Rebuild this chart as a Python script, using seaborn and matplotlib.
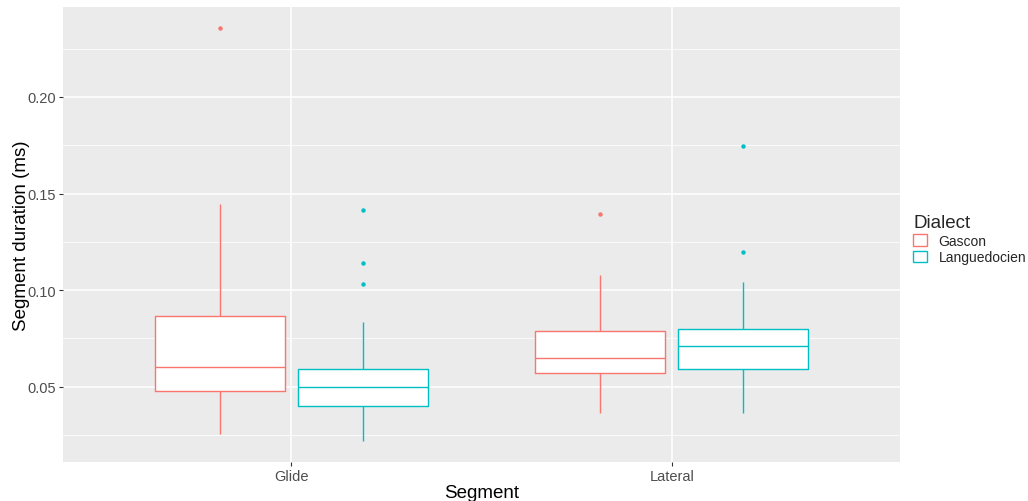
import numpy as np
import pandas as pd
import matplotlib
matplotlib.use("Agg")
import matplotlib.pyplot as plt
from matplotlib.ticker import MultipleLocator
import seaborn as sns

# ---------------------------------------------------------------------------
# Values (box summaries per Segment x Dialect)
# ---------------------------------------------------------------------------
segments = ["Glide", "Glide", "Lateral", "Lateral"]
dialects = ["Gascon", "Languedocien", "Gascon", "Languedocien"]
whisker_lo = [0.0256, 0.0218, 0.0364, 0.0364]
q1 = [0.0479, 0.0401, 0.0572, 0.0593]
median = [0.0603, 0.0500, 0.0650, 0.0712]
q3 = [0.0868, 0.0593, 0.0790, 0.0800]
whisker_hi = [0.1448, 0.0837, 0.1076, 0.1040]
outliers = [[0.2358], [0.1034, 0.1138, 0.1413], [0.1392], [0.1195, 0.1746]]

seg_order = ["Glide", "Lateral"]
dia_order = ["Gascon", "Languedocien"]
colors = {"Gascon": "#F8766D", "Languedocien": "#00BFC4"}

# long table built so that the box statistics land on the values above
rows = []
for i in range(len(segments)):
    k = 1 + len(outliers[i])
    vals = [whisker_lo[i]] + [q1[i]] * k + [median[i]] * k + [q3[i]] * k + [whisker_hi[i]] + outliers[i]
    for v in vals:
        rows.append({"Segment": segments[i], "Dialect": dialects[i], "dur": v})
df = pd.DataFrame(rows)

# ---------------------------------------------------------------------------
# Plot
# ---------------------------------------------------------------------------
sns.set_theme(style="darkgrid")
plt.rcParams["font.family"] = ["Liberation Sans", "DejaVu Sans"]

fig = plt.figure(figsize=(10.28, 5.02), dpi=100)
ax = fig.add_axes([63 / 1028, 1 - 463 / 502, (900 - 63) / 1028, (463 - 8) / 502])
ax.set_facecolor("#EBEBEB")

common = dict(data=df, x="Segment", y="dur", hue="Dialect", order=seg_order,
              hue_order=dia_order, width=0.75, gap=0.09, whis=1.5, ax=ax)

# white box bodies underneath
sns.boxplot(**common, palette={d: "white" for d in dia_order}, fill=True,
            linecolor="white", linewidth=0, showfliers=False, legend=False)
# coloured outlines, whiskers, medians and outliers (no caps, like ggplot)
sns.boxplot(**common, palette=colors, fill=False, linewidth=1.0, showcaps=False,
            flierprops=dict(marker="o", markersize=3.2, markeredgewidth=0))

# outliers take the colour of their dialect (left slot = Gascon)
for line in ax.lines:
    if line.get_marker() == "o":
        xs = np.asarray(line.get_xdata(), dtype=float)
        if len(xs) == 0:
            continue
        d = "Gascon" if xs[0] - np.round(xs[0]) < 0 else "Languedocien"
        line.set_markerfacecolor(colors[d])
        line.set_markeredgecolor(colors[d])

ax.set_xlim(-0.6, 1.6)
ax.set_ylim(0.0111, 0.2465)
ax.yaxis.set_major_locator(MultipleLocator(0.05))
ax.yaxis.set_minor_locator(MultipleLocator(0.025))
ax.yaxis.set_major_formatter(matplotlib.ticker.FormatStrFormatter("%.2f"))

ax.grid(which="major", color="white", linewidth=1.1)
ax.grid(which="minor", axis="y", color="white", linewidth=0.55)
ax.set_axisbelow(True)
for s in ax.spines.values():
    s.set_visible(False)

ax.tick_params(axis="both", which="major", length=3, width=0.8, color="#333333",
               labelcolor="#4D4D4D", labelsize=10.5, pad=2, bottom=True, left=True)
ax.tick_params(axis="y", which="minor", length=0)

ax.set_xlabel("Segment", fontsize=13.5, color="black", labelpad=1)
ax.set_ylabel("Segment duration (ms)", fontsize=13.5, color="black", labelpad=-2)

sns.move_legend(ax, "center left", bbox_to_anchor=(1.016, 0.49), frameon=False,
                title="Dialect", fontsize=10, title_fontsize=13.5,
                handlelength=1.0, handleheight=0.9, handletextpad=0.8,
                labelspacing=0.2, alignment="left", borderpad=0, borderaxespad=0)

fig.savefig("out.png", dpi=100)
